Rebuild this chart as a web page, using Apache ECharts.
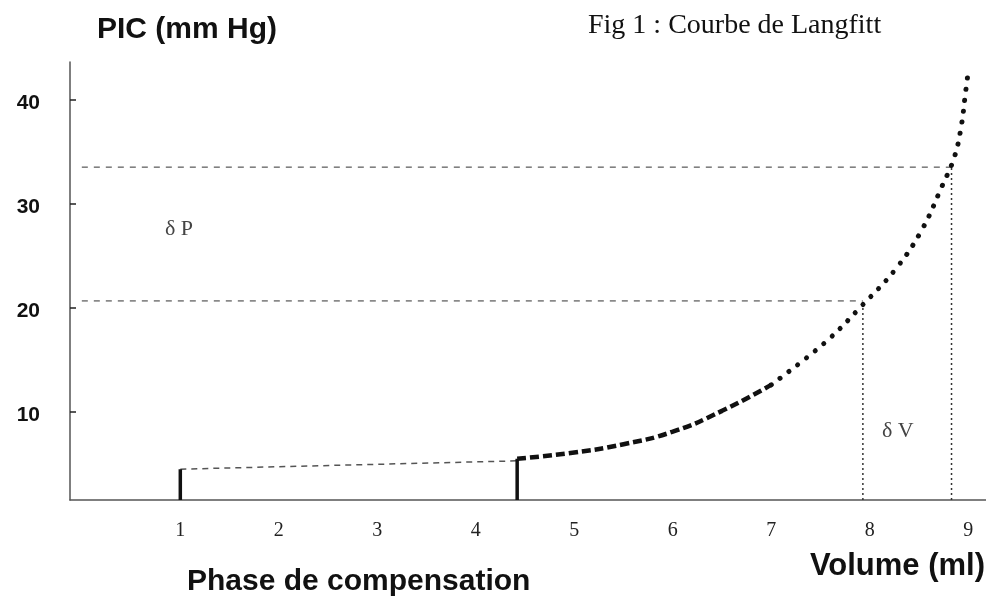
<!DOCTYPE html>
<html>
<head>
<meta charset="utf-8">
<script src="https://cdn.jsdelivr.net/npm/echarts@6/dist/echarts.min.js"></script>
<style>
  html, body { margin: 0; padding: 0; background: #fff; }
  #main { width: 986px; height: 598px; }
</style>
</head>
<body>
<div id="main"></div>
<script>
// tick labels
var xTicks = [1, 2, 3, 4, 5, 6, 7, 8, 9];
var yTicks = [10, 20, 30, 40];

// bottom of the pressure axis (where the volume axis sits)
var pBase = 1.54;

// compensation phase: thin dashed line between the two marks
var compV = [1, 4.42];
var compP = [4.5, 5.3];

// the two thick marks on the volume axis
var markV = [1, 4.42];
var markP = [4.5, 5.5];

// Langfitt curve, dashed part then dotted part
var dashV = [4.42, 5.0, 5.5, 6.0, 6.5, 7.0];
var dashP = [5.5, 6.1, 6.9, 8.1, 10.1, 12.6];
var dotV = [7.0, 7.55, 7.93, 8.27, 8.53, 8.73, 8.86, 8.93, 8.97, 9.0];
var dotP = [12.6, 16.7, 20.3, 23.8, 27.5, 31.6, 34.5, 37.5, 40.5, 42.7];

// delta V / delta P guides
var guideV = [7.93, 8.83];
var guideP = [20.66, 33.5];

function zip(a, b) {
  return a.map(function (v, i) { return [v, b[i]]; });
}

var chart = echarts.init(document.getElementById('main'));

var series = [];

// thin dashed compensation line
series.push({
  type: 'line', data: zip(compV, compP), symbol: 'none', silent: true,
  lineStyle: { color: '#555', width: 1.5, type: [6, 5] }
});

// thick marks
markV.forEach(function (v, i) {
  series.push({
    type: 'line', data: [[v, pBase], [v, markP[i]]], symbol: 'none', silent: true,
    lineStyle: { color: '#111', width: 3.5 }
  });
});

// guides
guideV.forEach(function (v, i) {
  series.push({
    type: 'line', data: [[0, guideP[i]], [v, guideP[i]]], symbol: 'none', silent: true,
    lineStyle: { color: '#777', width: 1.5, type: [6, 6] }
  });
  series.push({
    type: 'line', data: [[v, pBase], [v, guideP[i]]], symbol: 'none', silent: true,
    lineStyle: { color: '#333', width: 1.5, type: [2, 3] }
  });
});

// curve
series.push({
  type: 'line', data: zip(dashV, dashP), symbol: 'none', silent: true, smooth: 0.5,
  lineStyle: { color: '#111', width: 4.5, type: [9, 4] }
});
series.push({
  type: 'line', data: zip(dotV, dotP), symbol: 'none', silent: true, smooth: 0.4,
  lineStyle: { color: '#111', width: 5, type: [0.1, 11], cap: 'round' }
});

chart.setOption({
  animation: false,
  grid: { left: 70, right: 0, top: 62, bottom: 98 },
  xAxis: {
    type: 'value', min: -0.12, max: 9.18,
    splitLine: { show: false },
    axisLine: { lineStyle: { color: '#555', width: 1.5 } },
    axisTick: { show: false },
    axisLabel: {
      customValues: xTicks, margin: 21,
      fontFamily: 'Liberation Serif', fontSize: 20, color: '#222'
    }
  },
  yAxis: {
    type: 'value', min: pBase, max: 43.6,
    splitLine: { show: false },
    axisLine: { show: true, onZero: false, lineStyle: { color: '#555', width: 1.5 } },
    axisTick: { show: true, inside: true, length: 6, customValues: yTicks, lineStyle: { color: '#222', width: 1.5 } },
    axisLabel: {
      customValues: yTicks, margin: 30,
      formatter: '{n|{value}}',
      rich: {
        n: {
          padding: [7, 0, 0, 0],
          fontFamily: 'Liberation Sans', fontWeight: 'bold', fontSize: 21, color: '#111'
        }
      }
    }
  },
  graphic: [
    { type: 'text', left: 97, top: 15, style: { text: 'PIC (mm Hg)', font: 'bold 30px "Liberation Sans"', fill: '#111' } },
    { type: 'text', left: 588, top: 12, style: { text: 'Fig 1 : Courbe de Langfitt', font: '28px "Liberation Serif"', fill: '#111' } },
    { type: 'text', left: 187, top: 567, style: { text: 'Phase de compensation', font: 'bold 30px "Liberation Sans"', fill: '#111' } },
    { type: 'text', right: 1, top: 551, style: { text: 'Volume (ml)', font: 'bold 31px "Liberation Sans"', fill: '#111' } },
    { type: 'text', left: 165, top: 218, style: { text: 'δ P', font: '22px "Liberation Serif"', fill: '#444' } },
    { type: 'text', left: 882, top: 420, style: { text: 'δ V', font: '22px "Liberation Serif"', fill: '#444' } }
  ],
  series: series
});
</script>
</body>
</html>
